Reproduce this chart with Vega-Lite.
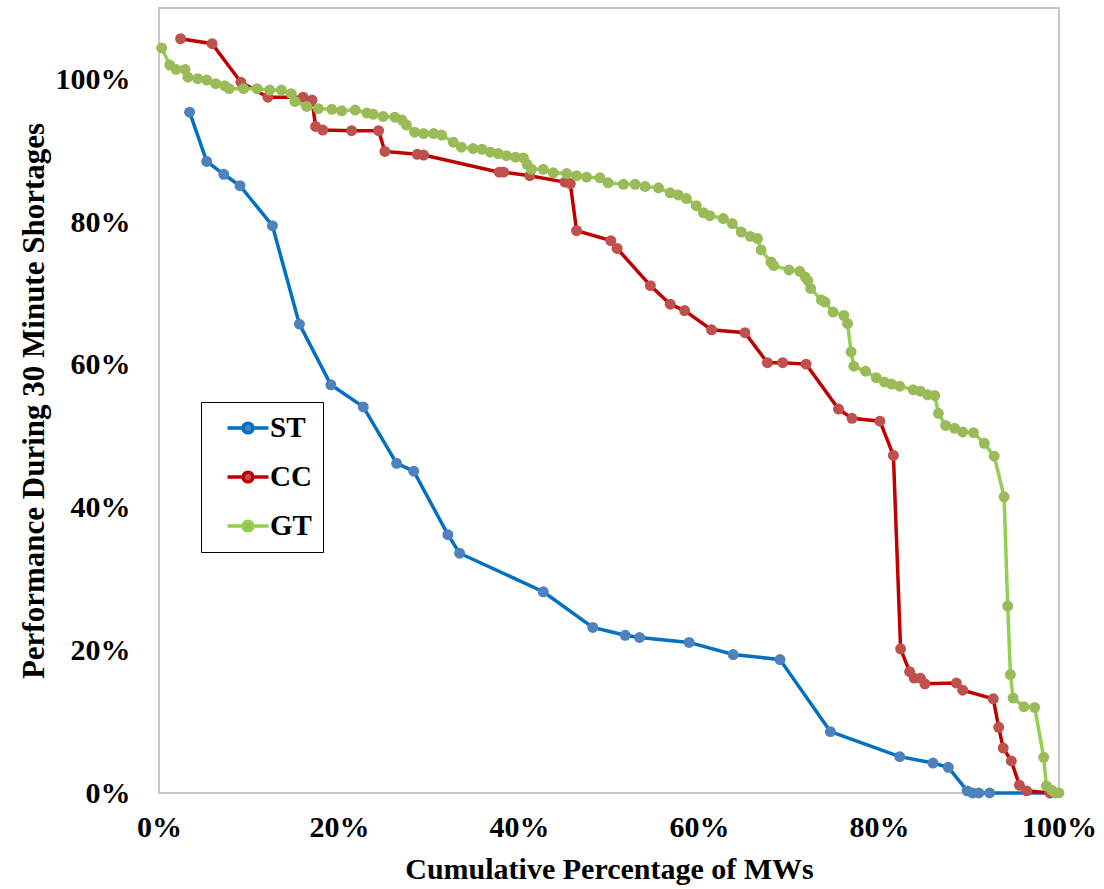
{
  "$schema": "https://vega.github.io/schema/vega-lite/v6.json",
  "width": 900,
  "height": 785,
  "autosize": "none",
  "padding": {"left": 159, "top": 8, "right": 45, "bottom": 96},
  "background": "white",
  "config": {
    "view": {"stroke": "#c8c8c8", "strokeWidth": 2},
    "font": "Liberation Serif"
  },
  "data": {
    "values": [
      {"s":"ST","x":0.034,"y":0.954},{"s":"ST","x":0.053,"y":0.885},{"s":"ST","x":0.072,"y":0.867},{"s":"ST","x":0.090,"y":0.851},{"s":"ST","x":0.126,"y":0.795},{"s":"ST","x":0.156,"y":0.657},{"s":"ST","x":0.191,"y":0.572},{"s":"ST","x":0.227,"y":0.541},{"s":"ST","x":0.264,"y":0.462},{"s":"ST","x":0.283,"y":0.451},{"s":"ST","x":0.321,"y":0.362},{"s":"ST","x":0.334,"y":0.336},{"s":"ST","x":0.427,"y":0.282},{"s":"ST","x":0.482,"y":0.232},{"s":"ST","x":0.518,"y":0.221},{"s":"ST","x":0.534,"y":0.218},{"s":"ST","x":0.589,"y":0.211},{"s":"ST","x":0.638,"y":0.194},{"s":"ST","x":0.690,"y":0.187},{"s":"ST","x":0.746,"y":0.086},{"s":"ST","x":0.823,"y":0.051},{"s":"ST","x":0.860,"y":0.042},{"s":"ST","x":0.877,"y":0.036},{"s":"ST","x":0.898,"y":0.003},{"s":"ST","x":0.904,"y":0},{"s":"ST","x":0.911,"y":0},{"s":"ST","x":0.923,"y":0},{"s":"ST","x":0.990,"y":0},
      {"s":"CC","x":0.024,"y":1.057},{"s":"CC","x":0.059,"y":1.050},{"s":"CC","x":0.091,"y":0.996},{"s":"CC","x":0.121,"y":0.975},{"s":"CC","x":0.160,"y":0.975},{"s":"CC","x":0.170,"y":0.971},{"s":"CC","x":0.174,"y":0.934},{"s":"CC","x":0.182,"y":0.929},{"s":"CC","x":0.214,"y":0.928},{"s":"CC","x":0.244,"y":0.928},{"s":"CC","x":0.251,"y":0.899},{"s":"CC","x":0.287,"y":0.895},{"s":"CC","x":0.294,"y":0.894},{"s":"CC","x":0.378,"y":0.870},{"s":"CC","x":0.383,"y":0.870},{"s":"CC","x":0.412,"y":0.865},{"s":"CC","x":0.451,"y":0.856},{"s":"CC","x":0.457,"y":0.854},{"s":"CC","x":0.464,"y":0.788},{"s":"CC","x":0.502,"y":0.774},{"s":"CC","x":0.509,"y":0.763},{"s":"CC","x":0.546,"y":0.711},{"s":"CC","x":0.568,"y":0.685},{"s":"CC","x":0.584,"y":0.676},{"s":"CC","x":0.614,"y":0.649},{"s":"CC","x":0.651,"y":0.645},{"s":"CC","x":0.676,"y":0.603},{"s":"CC","x":0.693,"y":0.603},{"s":"CC","x":0.719,"y":0.601},{"s":"CC","x":0.755,"y":0.538},{"s":"CC","x":0.770,"y":0.525},{"s":"CC","x":0.801,"y":0.521},{"s":"CC","x":0.816,"y":0.473},{"s":"CC","x":0.824,"y":0.202},{"s":"CC","x":0.834,"y":0.170},{"s":"CC","x":0.839,"y":0.161},{"s":"CC","x":0.846,"y":0.161},{"s":"CC","x":0.851,"y":0.153},{"s":"CC","x":0.886,"y":0.154},{"s":"CC","x":0.893,"y":0.144},{"s":"CC","x":0.927,"y":0.132},{"s":"CC","x":0.933,"y":0.092},{"s":"CC","x":0.938,"y":0.063},{"s":"CC","x":0.947,"y":0.045},{"s":"CC","x":0.956,"y":0.011},{"s":"CC","x":0.964,"y":0.003},{"s":"CC","x":0.990,"y":0},
      {"s":"GT","x":0.003,"y":1.044},{"s":"GT","x":0.012,"y":1.020},{"s":"GT","x":0.019,"y":1.014},{"s":"GT","x":0.029,"y":1.014},{"s":"GT","x":0.032,"y":1.003},{"s":"GT","x":0.043,"y":1.001},{"s":"GT","x":0.053,"y":0.999},{"s":"GT","x":0.063,"y":0.994},{"s":"GT","x":0.073,"y":0.991},{"s":"GT","x":0.078,"y":0.987},{"s":"GT","x":0.094,"y":0.987},{"s":"GT","x":0.109,"y":0.987},{"s":"GT","x":0.123,"y":0.985},{"s":"GT","x":0.136,"y":0.985},{"s":"GT","x":0.147,"y":0.980},{"s":"GT","x":0.151,"y":0.969},{"s":"GT","x":0.164,"y":0.962},{"s":"GT","x":0.177,"y":0.959},{"s":"GT","x":0.192,"y":0.958},{"s":"GT","x":0.203,"y":0.956},{"s":"GT","x":0.218,"y":0.957},{"s":"GT","x":0.231,"y":0.953},{"s":"GT","x":0.238,"y":0.951},{"s":"GT","x":0.249,"y":0.948},{"s":"GT","x":0.262,"y":0.947},{"s":"GT","x":0.270,"y":0.943},{"s":"GT","x":0.275,"y":0.936},{"s":"GT","x":0.284,"y":0.926},{"s":"GT","x":0.294,"y":0.924},{"s":"GT","x":0.305,"y":0.924},{"s":"GT","x":0.314,"y":0.922},{"s":"GT","x":0.327,"y":0.912},{"s":"GT","x":0.336,"y":0.905},{"s":"GT","x":0.349,"y":0.903},{"s":"GT","x":0.359,"y":0.902},{"s":"GT","x":0.368,"y":0.898},{"s":"GT","x":0.377,"y":0.896},{"s":"GT","x":0.386,"y":0.893},{"s":"GT","x":0.396,"y":0.891},{"s":"GT","x":0.405,"y":0.890},{"s":"GT","x":0.409,"y":0.881},{"s":"GT","x":0.414,"y":0.874},{"s":"GT","x":0.427,"y":0.874},{"s":"GT","x":0.438,"y":0.869},{"s":"GT","x":0.453,"y":0.868},{"s":"GT","x":0.464,"y":0.865},{"s":"GT","x":0.475,"y":0.863},{"s":"GT","x":0.490,"y":0.862},{"s":"GT","x":0.499,"y":0.855},{"s":"GT","x":0.516,"y":0.853},{"s":"GT","x":0.529,"y":0.853},{"s":"GT","x":0.540,"y":0.850},{"s":"GT","x":0.555,"y":0.848},{"s":"GT","x":0.568,"y":0.841},{"s":"GT","x":0.577,"y":0.838},{"s":"GT","x":0.586,"y":0.833},{"s":"GT","x":0.597,"y":0.823},{"s":"GT","x":0.605,"y":0.813},{"s":"GT","x":0.612,"y":0.809},{"s":"GT","x":0.627,"y":0.805},{"s":"GT","x":0.637,"y":0.798},{"s":"GT","x":0.647,"y":0.786},{"s":"GT","x":0.657,"y":0.780},{"s":"GT","x":0.665,"y":0.777},{"s":"GT","x":0.669,"y":0.761},{"s":"GT","x":0.680,"y":0.744},{"s":"GT","x":0.683,"y":0.739},{"s":"GT","x":0.700,"y":0.733},{"s":"GT","x":0.712,"y":0.731},{"s":"GT","x":0.718,"y":0.723},{"s":"GT","x":0.721,"y":0.718},{"s":"GT","x":0.724,"y":0.707},{"s":"GT","x":0.736,"y":0.691},{"s":"GT","x":0.740,"y":0.688},{"s":"GT","x":0.749,"y":0.674},{"s":"GT","x":0.761,"y":0.669},{"s":"GT","x":0.765,"y":0.658},{"s":"GT","x":0.769,"y":0.618},{"s":"GT","x":0.772,"y":0.598},{"s":"GT","x":0.785,"y":0.591},{"s":"GT","x":0.797,"y":0.582},{"s":"GT","x":0.806,"y":0.576},{"s":"GT","x":0.814,"y":0.573},{"s":"GT","x":0.823,"y":0.570},{"s":"GT","x":0.838,"y":0.565},{"s":"GT","x":0.846,"y":0.563},{"s":"GT","x":0.854,"y":0.558},{"s":"GT","x":0.862,"y":0.557},{"s":"GT","x":0.866,"y":0.532},{"s":"GT","x":0.874,"y":0.515},{"s":"GT","x":0.884,"y":0.511},{"s":"GT","x":0.893,"y":0.506},{"s":"GT","x":0.905,"y":0.505},{"s":"GT","x":0.917,"y":0.490},{"s":"GT","x":0.928,"y":0.472},{"s":"GT","x":0.939,"y":0.415},{"s":"GT","x":0.943,"y":0.262},{"s":"GT","x":0.946,"y":0.166},{"s":"GT","x":0.949,"y":0.133},{"s":"GT","x":0.961,"y":0.121},{"s":"GT","x":0.973,"y":0.120},{"s":"GT","x":0.983,"y":0.050},{"s":"GT","x":0.986,"y":0.010},{"s":"GT","x":0.992,"y":0.004},{"s":"GT","x":0.996,"y":0},{"s":"GT","x":1.0,"y":0}
    ]
  },
  "encoding": {
    "x": {
      "field": "x", "type": "quantitative",
      "scale": {"domain": [0, 1], "nice": false, "zero": false},
      "axis": {
        "title": "Cumulative Percentage of MWs",
        "values": [0, 0.2, 0.4, 0.6, 0.8, 1.0],
        "format": ".0%",
        "grid": false, "domain": false, "ticks": false, "tickSize": 0,
        "labelFont": "Liberation Serif", "labelFontSize": 30, "labelFontWeight": "bold", "labelColor": "black",
        "labelPadding": 19, "labelFlush": false, "labelOverlap": false,
        "titleFont": "Liberation Serif", "titleFontSize": 30, "titleFontWeight": "bold", "titleColor": "black",
        "titlePadding": 12
      }
    },
    "y": {
      "field": "y", "type": "quantitative",
      "scale": {"domain": [0, 1.1], "nice": false},
      "axis": {
        "title": "Performance During 30 Minute Shortages",
        "values": [0, 0.2, 0.4, 0.6, 0.8, 1.0],
        "format": ".0%",
        "grid": false, "domain": false, "ticks": false, "tickSize": 0,
        "labelFont": "Liberation Serif", "labelFontSize": 30, "labelFontWeight": "bold", "labelColor": "black",
        "labelPadding": 29, "labelFlush": false, "labelOverlap": false,
        "titleFont": "Liberation Serif", "titleFontSize": 31, "titleFontWeight": "bold", "titleColor": "black",
        "titlePadding": 5
      }
    }
  },
  "layer": [
    {
      "mark": {"type": "line", "strokeWidth": 3.5, "clip": false},
      "encoding": {
        "stroke": {
          "field": "s", "type": "nominal",
          "scale": {"domain": ["ST", "CC", "GT"], "range": ["#0070C0", "#C00000", "#92D050"]},
          "legend": {
            "title": null,
            "orient": "none",
            "legendX": 42,
            "legendY": 394,
            "padding": 11,
            "rowPadding": 19,
            "strokeColor": "black",
            "fillColor": "white",
            "symbolType": "M-1.6,0L-0.38,0M0.38,0L1.6,0M0.38,0A0.38,0.38,0,1,1,-0.38,0A0.38,0.38,0,1,1,0.38,0Z",
            "symbolSize": 655,
            "symbolStrokeWidth": 3.5,
            "symbolFillColor": {"expr": "scale('fill', datum.value)"},
            "symbolOffset": 21,
            "labelOffset": 7,
            "labelFont": "Liberation Serif",
            "labelFontSize": 29,
            "labelFontWeight": "bold",
            "labelColor": "black",
            "labelExpr": "datum.label + '\u00a0\u00a0\u00a0\u00a0'"
          }
        }
      }
    },
    {
      "mark": {"type": "point", "filled": true, "size": 120, "opacity": 1, "clip": false},
      "encoding": {
        "fill": {
          "field": "s", "type": "nominal",
          "scale": {"domain": ["ST", "CC", "GT"], "range": ["#4F81BD", "#C0504D", "#9BBB59"]},
          "legend": null
        }
      }
    }
  ]
}
